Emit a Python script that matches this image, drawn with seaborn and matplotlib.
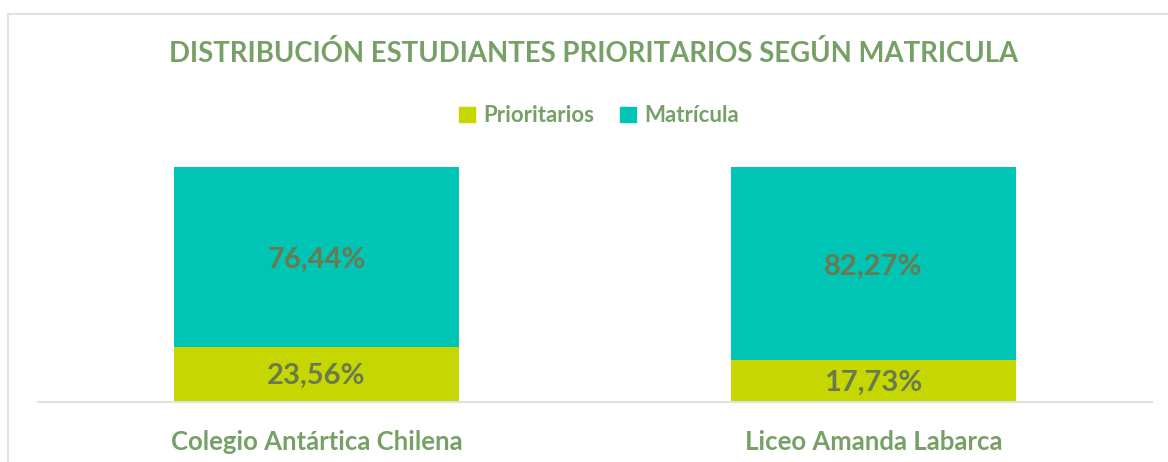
import matplotlib
matplotlib.use("Agg")
import matplotlib.pyplot as plt
import seaborn as sns
import pandas as pd
from matplotlib.patches import Rectangle

categories = ["Colegio Antártica Chilena", "Liceo Amanda Labarca"]
prioritarios = [23.56, 17.73]
matricula = [76.44, 82.27]
series_names = ["Prioritarios", "Matrícula"]

sns.set_theme(style="white")
plt.rcParams['font.family'] = ['Lato', 'DejaVu Sans']

C_PRI = "#C5D600"
C_MAT = "#00C4B4"
TITLE_C = "#76A065"
LABEL_C = "#6A7A50"

W, H = 1168, 462
fig = plt.figure(figsize=(W / 100, H / 100), dpi=100)
ax = fig.add_axes([38 / W, (H - 402) / H, (1152 - 38) / W, (402 - 167) / H])

df = pd.DataFrame({"cat": categories, "pri": prioritarios, "mat": matricula})
df["tot"] = df["pri"] + df["mat"]

sns.barplot(data=df, x="cat", y="tot", color=C_MAT, width=0.512, ax=ax,
            saturation=1, edgecolor="none", linewidth=0)
sns.barplot(data=df, x="cat", y="pri", color=C_PRI, width=0.512, ax=ax,
            saturation=1, edgecolor="none", linewidth=0)

for i, (p, m) in enumerate(zip(prioritarios, matricula)):
    ax.text(i, p / 2 - 0.6, f"{p:.2f}%".replace(".", ","), ha="center", va="center",
            fontsize=21, fontweight="bold", color=LABEL_C)
    ax.text(i, p + m / 2 - 1.2, f"{m:.2f}%".replace(".", ","), ha="center", va="center",
            fontsize=21, fontweight="bold", color=LABEL_C)

ax.set_xlim(-0.5, 1.5)
ax.set_ylim(0, 100)
ax.set_yticks([])
ax.set_xlabel("")
ax.set_ylabel("")
for s in ["top", "right", "left"]:
    ax.spines[s].set_visible(False)
ax.spines["bottom"].set_color("#DDE5D8")
ax.spines["bottom"].set_linewidth(1.5)
ax.tick_params(axis="x", length=0, pad=20)
for lbl in ax.get_xticklabels():
    lbl.set_fontsize(18.5)
    lbl.set_fontweight("bold")
    lbl.set_color(TITLE_C)

fig.text(594 / W, 1 - 53 / H, "DISTRIBUCIÓN ESTUDIANTES PRIORITARIOS SEGÚN MATRICULA",
         ha="center", va="center", fontsize=19.8, fontweight="bold", color=TITLE_C)

handles = [Rectangle((0, 0), 1, 1, color=C_PRI), Rectangle((0, 0), 1, 1, color=C_MAT)]
leg = fig.legend(handles, series_names, loc="center", bbox_to_anchor=(599 / W, 1 - 116 / H),
                 ncol=2, frameon=False, handlelength=0.7, handleheight=0.7,
                 handletextpad=0.35, columnspacing=1.2,
                 prop={"size": 16, "weight": "bold"})
for t in leg.get_texts():
    t.set_color(TITLE_C)

# outer frame
fig.patches.append(Rectangle((8 / W, -0.1), 1.2, 1 - 14 / H + 0.1, transform=fig.transFigure,
                             fill=False, edgecolor="#DDE5D8", linewidth=1.5))

fig.savefig("out.png", dpi=100)
